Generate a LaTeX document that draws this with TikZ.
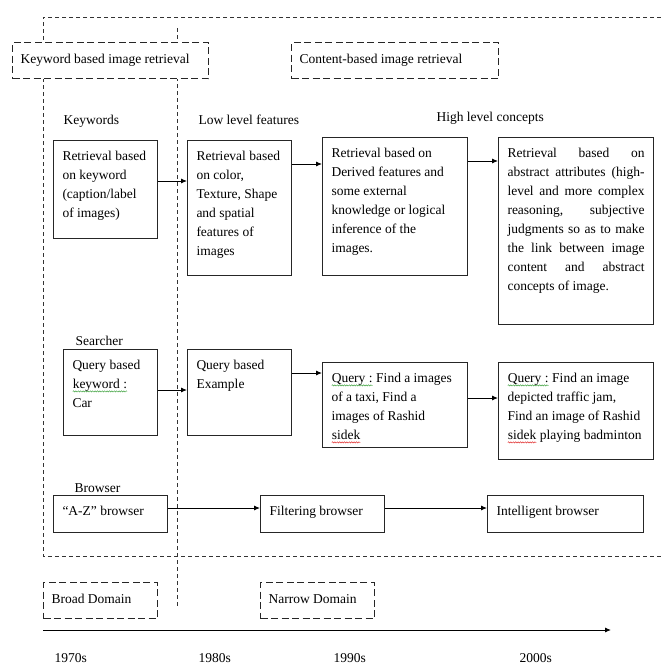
\documentclass[tikz,border=0pt]{standalone}
\usepackage{fontspec}
\setmainfont{Liberation Serif}
\usetikzlibrary{arrows.meta,decorations.pathmorphing}
\definecolor{wordgreen}{RGB}{70,165,70}
\definecolor{wordred}{RGB}{225,50,50}
% top aligned text inside a box of fixed size
\newcommand{\cell}[3]{\parbox[t][#2][t]{#1}{\begin{tabular}[t]{@{}l@{}}#3\end{tabular}}}
% spelling marks under a word
\newcommand{\squig}[2]{\tikz[baseline=(w.base)]{\node[inner sep=0pt,outer sep=0pt,anchor=base] (w) {#2};
  \draw[#1,line width=0.5pt,decorate,decoration={snake,amplitude=0.6pt,segment length=2.4pt}] ([yshift=-2.6pt]w.base west) -- ([yshift=-2.6pt]w.base east);}}

\begin{document}
\begin{tikzpicture}[x=1pt,y=1pt,
  box/.style={draw=black!85,line width=1pt,anchor=north west,inner xsep=9pt,inner ysep=7pt},
  tag/.style={draw=black!85,line width=1.1pt,dash pattern=on 7pt off 3.5pt,fill=white,anchor=north west,inner xsep=8pt,inner ysep=8pt},
  frame/.style={black!80,line width=0.8pt,dash pattern=on 4pt off 3pt},
  arr/.style={-{Latex[length=6pt,width=5pt]},line width=0.9pt},
  lbl/.style={anchor=base west}]
\tikzstyle{every node}+=[font=\fontsize{13.5}{19}\selectfont]
\useasboundingbox (0,0) rectangle (661,-664);
% dashed frame and era line
\draw [frame] (661,-17) -- (43,-17) -- (43,-556) -- (661,-556);
\draw [frame] (177,-28) -- (177,-606);
% era boxes
\node [tag] (kwr) at (12,-42) {\cell{180pt}{20pt}{Keyword based image retrieval}};
\node [tag] (cbr) at (291,-42) {\cell{191pt}{20pt}{Content-based image retrieval}};
\node [tag] (broad) at (43,-582) {\cell{98pt}{20pt}{Broad Domain}};
\node [tag] (narrow) at (260,-582) {\cell{98pt}{20pt}{Narrow Domain}};
% column heads
\node [lbl] (kwd) at (60,-124) {Keywords};
\node [lbl] (low) at (195,-124) {Low level features};
\node [lbl] (high) at (433,-121) {High level concepts};
\node [lbl] (srch) at (72,-345) {Searcher};
\node [lbl] (brws) at (71,-492) {Browser};
% retrieval row
\node [box] (r1) at (53,-140) {\cell{86pt}{84pt}{Retrieval based\\on keyword\\(caption/label\\of images)}};
\node [box] (r2) at (187,-140) {\cell{86pt}{121pt}{Retrieval based\\on color,\\Texture, Shape\\and spatial\\features of\\images}};
\node [box] (r3) at (322,-137) {\cell{127pt}{124pt}{Retrieval based on\\Derived features and\\some external\\knowledge or logical\\inference of the\\images.}};
\node [box] (r4) at (498,-137) {\parbox[t][173pt][t]{137pt}{\strut Retrieval based on\linebreak abstract attributes (high-\linebreak level and more complex\linebreak reasoning, subjective\linebreak judgments so as to make\linebreak the link between image\linebreak content and abstract\linebreak concepts of image.}};
% query row
\node [box] (q1) at (63,-349) {\cell{76pt}{72pt}{Query based\\\squig{wordgreen}{keyword :}\\Car}};
\node [box] (q2) at (187,-349) {\cell{86pt}{72pt}{Query based\\Example}};
\node [box] (q3) at (322,-362) {\cell{127pt}{71pt}{\squig{wordgreen}{Query :} Find a images\\of a taxi, Find a\\images of Rashid\\\squig{wordred}{sidek}}};
\node [box] (q4) at (498,-362) {\cell{137pt}{83pt}{\squig{wordgreen}{Query :} Find an image\\depicted traffic jam,\\Find an image of Rashid\\\squig{wordred}{sidek} playing badminton}};
% browser row
\node [box] (b1) at (53,-495) {\cell{96pt}{23pt}{``A-Z'' browser}};
\node [box] (b2) at (260,-495) {\cell{106pt}{23pt}{Filtering browser}};
\node [box] (b3) at (487,-495) {\cell{138pt}{23pt}{Intelligent browser}};
% connectors
\draw [arr] ([yshift=-41pt]r1.north east) -- ([yshift=-41pt]r1.north east -| r2.west);
\draw [arr] ([yshift=-24pt]r2.north east) -- ([yshift=-24pt]r2.north east -| r3.west);
\draw [arr] ([yshift=-24pt]r3.north east) -- ([yshift=-24pt]r3.north east -| r4.west);
\draw [arr] ([yshift=-41pt]q1.north east) -- ([yshift=-41pt]q1.north east -| q2.west);
\draw [arr] ([yshift=-24pt]q2.north east) -- ([yshift=-24pt]q2.north east -| q3.west);
\draw [arr] ([yshift=-36pt]q3.north east) -- ([yshift=-36pt]q3.north east -| q4.west);
\draw [arr] ([yshift=-13pt]b1.north east) -- ([yshift=-13pt]b1.north east -| b2.west);
\draw [arr] ([yshift=-13pt]b2.north east) -- ([yshift=-13pt]b2.north east -| b3.west);
% time line
\coordinate (t0) at (43,-630);
\coordinate (t1) at (611,-630);
\draw [arr] (t0) -- (t1);
\node [lbl] (y70) at (51,-662) {1970s};
\node [lbl] (y80) at (195,-662) {1980s};
\node [lbl] (y90) at (330,-662) {1990s};
\node [lbl] (y00) at (516,-662) {2000s};
\end{tikzpicture}
\end{document}
